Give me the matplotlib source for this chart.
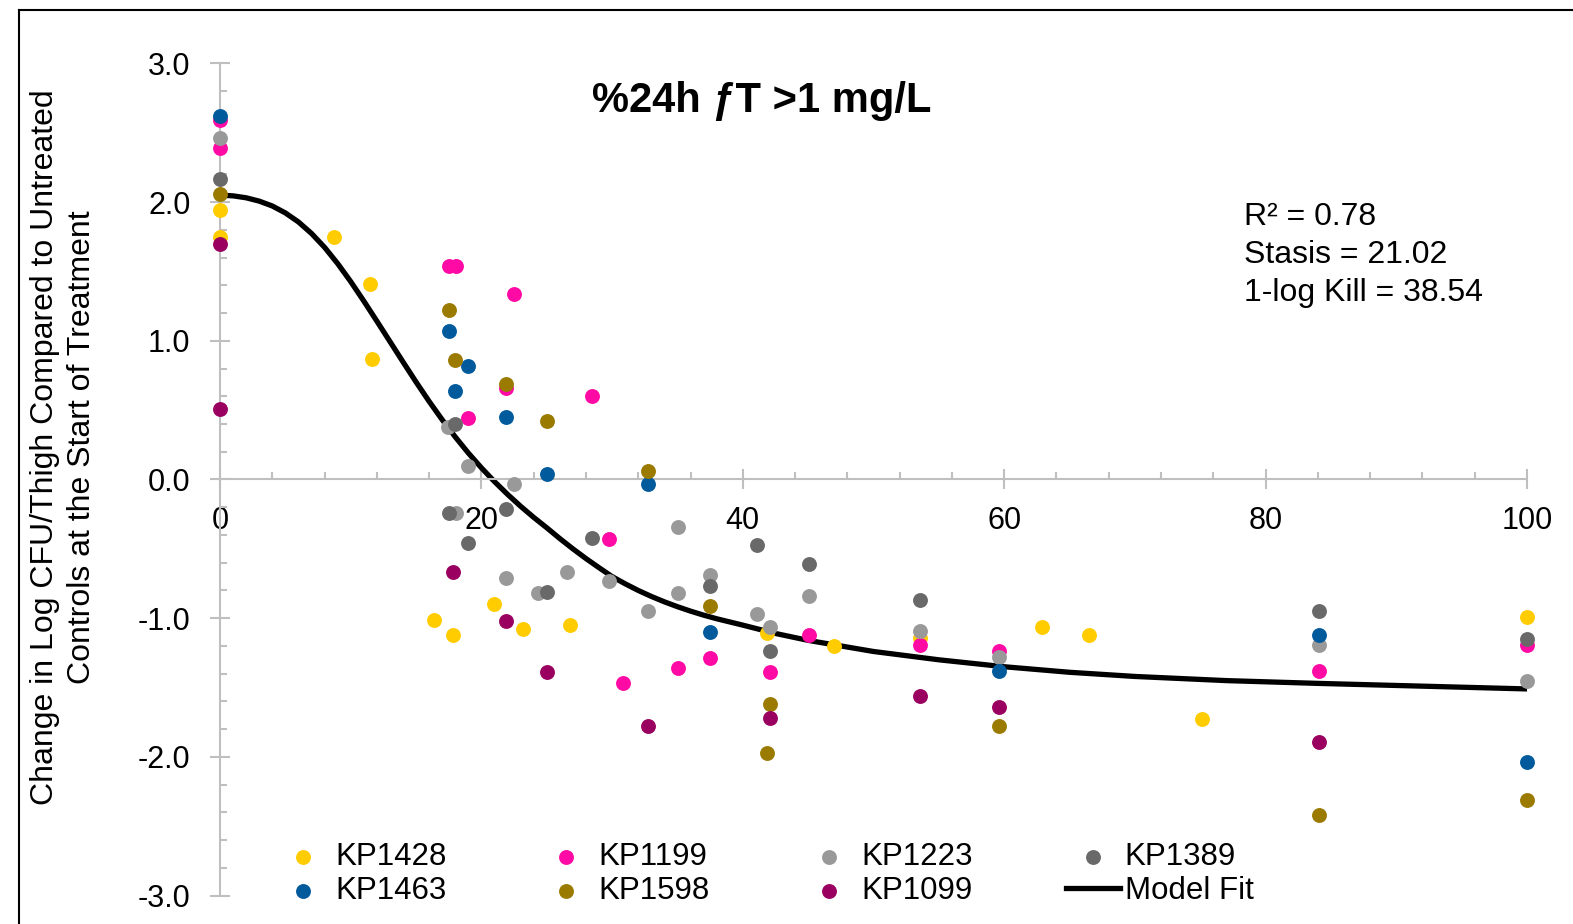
import matplotlib
matplotlib.use('Agg')
import matplotlib.pyplot as plt
from matplotlib.lines import Line2D
from matplotlib.ticker import MultipleLocator, FormatStrFormatter

plt.rcParams['font.family'] = ['Liberation Sans', 'DejaVu Sans']
plt.rcParams['axes.unicode_minus'] = False

# values
kp1428_x = [0, 0, 8.7, 11.45, 11.65, 16.35, 17.8, 20.95, 23.15, 26.75, 41.85, 46.95, 53.55, 62.9, 66.45, 75.15, 100]
kp1428_y = [1.94, 1.75, 1.75, 1.41, 0.87, -1.01, -1.12, -0.90, -1.08, -1.05, -1.11, -1.20, -1.14, -1.06, -1.12, -1.73, -0.99]

kp1199_x = [0, 0, 17.5, 18.05, 22.5, 21.85, 28.5, 19.0, 29.8, 37.5, 35.05, 30.85, 42.05, 45.05, 53.55, 59.6, 84.1, 100]
kp1199_y = [2.59, 2.39, 1.54, 1.54, 1.34, 0.66, 0.60, 0.44, -0.43, -1.29, -1.36, -1.47, -1.39, -1.12, -1.19, -1.24, -1.38, -1.19]

kp1223_x = [0, 17.45, 19.0, 22.5, 18.05, 21.85, 26.55, 24.3, 29.8, 35.05, 37.5, 32.75, 35.05, 41.05, 42.05, 45.05, 53.55, 59.6, 84.1, 100]
kp1223_y = [2.46, 0.38, 0.10, -0.03, -0.24, -0.71, -0.67, -0.82, -0.73, -0.34, -0.69, -0.95, -0.82, -0.97, -1.06, -0.84, -1.09, -1.28, -1.19, -1.45]

kp1389_x = [0, 18.0, 17.5, 21.85, 19.0, 28.5, 41.05, 25.0, 37.5, 42.05, 45.05, 53.55, 84.1, 100]
kp1389_y = [2.17, 0.40, -0.24, -0.21, -0.46, -0.42, -0.47, -0.81, -0.77, -1.24, -0.61, -0.87, -0.95, -1.15]

kp1463_x = [0, 17.5, 19.0, 18.0, 21.85, 25.0, 32.75, 37.5, 59.6, 84.1, 100]
kp1463_y = [2.62, 1.07, 0.82, 0.64, 0.45, 0.04, -0.03, -1.10, -1.38, -1.12, -2.04]

kp1598_x = [0, 17.5, 18.0, 21.85, 25.0, 32.75, 37.5, 42.05, 41.85, 59.6, 84.1, 100]
kp1598_y = [2.06, 1.22, 0.86, 0.69, 0.42, 0.06, -0.91, -1.62, -1.97, -1.78, -2.42, -2.31]

kp1099_x = [0, 0, 17.8, 21.85, 25.0, 32.75, 42.05, 53.55, 59.6, 84.1]
kp1099_y = [1.70, 0.51, -0.67, -1.02, -1.39, -1.78, -1.72, -1.56, -1.64, -1.89]

# model fit curve
fit_x = [0, 1, 2, 3, 4, 5, 6, 7, 8, 9, 10, 11, 12, 13, 14, 15, 16, 17, 18, 19, 20, 21, 22,
         23, 24, 25, 26, 27, 28, 29, 30, 31, 32, 33, 34, 35, 36, 37, 38, 40, 42.5, 45,
         50, 55, 60, 65, 70, 77, 84, 92, 100]
fit_y = [2.05, 2.045, 2.031, 2.007, 1.972, 1.922, 1.857, 1.774, 1.674, 1.557, 1.427, 1.287,
         1.142, 0.995, 0.848, 0.703, 0.563, 0.431, 0.307, 0.191, 0.084, -0.015, -0.107,
         -0.193, -0.273, -0.348, -0.426, -0.500, -0.570, -0.636, -0.700, -0.752, -0.800,
         -0.843, -0.882, -0.917, -0.949, -0.978, -1.004, -1.050, -1.110, -1.160,
         -1.240, -1.300, -1.350, -1.390, -1.420, -1.450, -1.470, -1.490, -1.510]

names = ['KP1428', 'KP1199', 'KP1223', 'KP1389', 'KP1463', 'KP1598', 'KP1099']
xs = [kp1428_x, kp1199_x, kp1223_x, kp1389_x, kp1463_x, kp1598_x, kp1099_x]
ys = [kp1428_y, kp1199_y, kp1223_y, kp1389_y, kp1463_y, kp1598_y, kp1099_y]
colors = ['#FFCC00', '#FF0AA5', '#999999', '#696969', '#005A9C', '#9A7B00', '#99005F']

axis_grey = '#BFBFBF'

fig = plt.figure(figsize=(15.73, 9.24), dpi=100)
ax = fig.add_axes([0.13986, 0.03074, 0.8309, 0.90065])

fit_line, = ax.plot(fit_x, fit_y, color='black', lw=3.8, zorder=2, label='Model Fit')

handles = {}
for name, x, y, c in zip(names, xs, ys, colors):
    handles[name] = ax.scatter(x, y, s=115, color=c, linewidths=0, zorder=3, clip_on=False, label=name)

ax.set_xlim(0, 100)
ax.set_ylim(-3, 3)
ax.spines['left'].set_position(('data', 0))
ax.spines['bottom'].set_position(('data', 0))
ax.spines['top'].set_visible(False)
ax.spines['right'].set_visible(False)
for s in ['left', 'bottom']:
    ax.spines[s].set_color(axis_grey)
    ax.spines[s].set_linewidth(1.5)

ax.xaxis.set_major_locator(MultipleLocator(20))
ax.xaxis.set_minor_locator(MultipleLocator(4))
ax.yaxis.set_major_locator(MultipleLocator(1))
ax.yaxis.set_minor_locator(MultipleLocator(0.2))
ax.yaxis.set_major_formatter(FormatStrFormatter('%.1f'))

ax.tick_params(which='major', direction='inout', length=14.4, width=1.5, color=axis_grey, labelsize=22)
ax.tick_params(which='minor', direction='in', length=5, width=1.5, color=axis_grey)
ax.tick_params(axis='x', which='major', pad=12)
ax.tick_params(axis='y', which='major', pad=14)

# title and fit statistics
fig.text(762/1573, 1-101/924, '%24h ƒT >1 mg/L', fontsize=30, fontweight='bold', ha='center', va='center')
fig.text(1244/1573, 1-216.7/924, 'R² = 0.78', fontsize=23, ha='left', va='center')
fig.text(1244/1573, 1-254.8/924, 'Stasis = 21.02', fontsize=23, ha='left', va='center')
fig.text(1244/1573, 1-292.9/924, '1-log Kill = 38.54', fontsize=23, ha='left', va='center')

# y label on two lines
fig.text(45.1/1573, 1-447/924, 'Change in Log CFU/Thigh Compared to Untreated', fontsize=23,
         rotation=90, ha='center', va='center')
fig.text(82.3/1573, 1-447/924, 'Controls at the Start of Treatment', fontsize=23,
         rotation=90, ha='center', va='center')

# legend: 4 columns, row-major order in the picture
order = ['KP1428', 'KP1463', 'KP1199', 'KP1598', 'KP1223', 'KP1099', 'KP1389']
leg_handles = [handles[n] for n in order] + [fit_line]
leg_labels = order + ['Model Fit']
fig.legend(leg_handles, leg_labels, ncol=4, loc='center left',
           bbox_to_anchor=(276/1573, 1-874/924), frameon=False, fontsize=22.5,
           handlelength=1.73, handletextpad=0.16, columnspacing=2.97, labelspacing=0.12,
           borderpad=0, borderaxespad=0, scatterpoints=1)

# outer frame (left and top edges visible)
fig.add_artist(Line2D([19/1573, 19/1573], [0, 1-10/924], color='black', lw=1.5, transform=fig.transFigure))
fig.add_artist(Line2D([19/1573, 1], [1-10/924, 1-10/924], color='black', lw=1.5, transform=fig.transFigure))

fig.savefig('out.png', dpi=100)
